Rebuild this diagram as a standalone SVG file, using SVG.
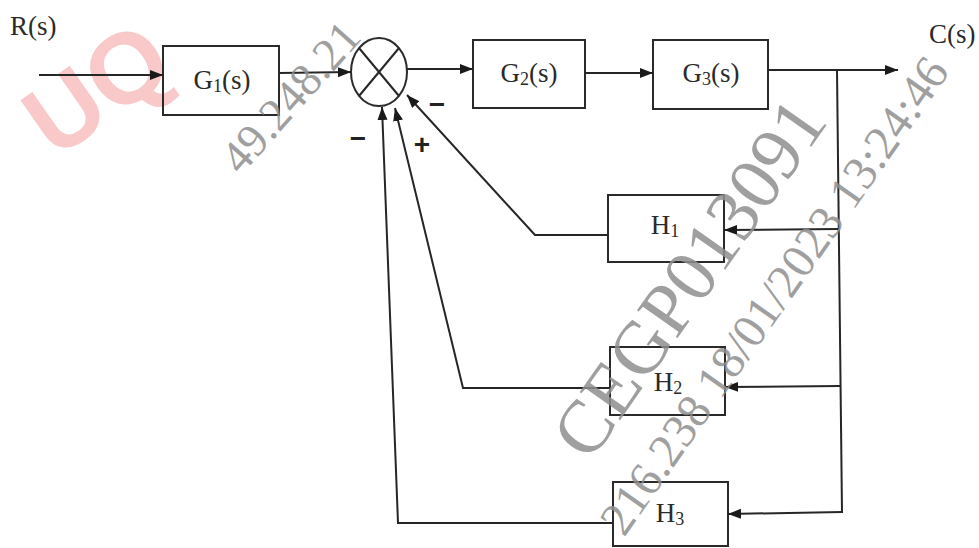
<svg xmlns="http://www.w3.org/2000/svg" width="979" height="548" viewBox="0 0 979 548">
  <style>
    .box { fill: none; stroke: #2a2a2a; stroke-width: 2; }
    .wire { fill: none; stroke: #262626; stroke-width: 2; }
    .lbl { font-family: "Liberation Serif", "Times New Roman", serif; font-size: 27px; fill: #2a2a2a; }
    .sub { font-size: 18px; }
    .sign { font-family: "Liberation Sans", Arial, sans-serif; font-weight: bold; font-size: 28px; fill: #222; text-anchor: middle; }
    .wm { font-family: "Liberation Serif", "Times New Roman", serif; fill: #8f8f8f; opacity: 0.85; }
  </style>
  <defs>
    <marker id="arr" markerUnits="userSpaceOnUse" markerWidth="14" markerHeight="11" refX="13" refY="5" orient="auto">
      <path d="M0,0 L13,5 L0,10 Z" fill="#1a1a1a"/>
    </marker>
  </defs>
  <rect width="979" height="548" fill="#ffffff"/>

  <!-- red watermark -->
  <g id="watermark-red">
    <text x="55" y="160" transform="rotate(-35 55 160)" font-family="Liberation Sans, Arial, sans-serif" font-weight="bold" font-size="100" fill="#f7b3b3" opacity="0.7">UQ</text>
  </g>

  <!-- labels -->
  <g id="input-label">
    <text class="lbl" x="10" y="35" font-size="28">R(s)</text>
  </g>
  <g id="output-label">
    <text class="lbl" x="929" y="43" font-size="26">C(s)</text>
  </g>

  <!-- nodes -->
  <g id="G1">
    <rect class="box" x="163" y="46" width="116" height="69"/>
    <text class="lbl" x="222" y="89" text-anchor="middle">G<tspan class="sub" dy="3">1</tspan><tspan dy="-3">(s)</tspan></text>
  </g>
  <g id="summer">
    <ellipse class="box" cx="379" cy="72" rx="28" ry="34"/>
    <line class="wire" x1="359" y1="48" x2="399" y2="96" stroke-width="1.5"/>
    <line class="wire" x1="399" y1="48" x2="359" y2="96" stroke-width="1.5"/>
  </g>
  <g id="G2">
    <rect class="box" x="473" y="40" width="112" height="68"/>
    <text class="lbl" x="529" y="82" text-anchor="middle">G<tspan class="sub" dy="3">2</tspan><tspan dy="-3">(s)</tspan></text>
  </g>
  <g id="G3">
    <rect class="box" x="653" y="40" width="115" height="69"/>
    <text class="lbl" x="711" y="82" text-anchor="middle">G<tspan class="sub" dy="3">3</tspan><tspan dy="-3">(s)</tspan></text>
  </g>
  <g id="H1">
    <rect class="box" x="608" y="195" width="116" height="67"/>
    <text class="lbl" x="665" y="234" text-anchor="middle" font-size="29">H<tspan class="sub" dy="3">1</tspan></text>
  </g>
  <g id="H2">
    <rect class="box" x="610" y="347" width="115" height="68"/>
    <text class="lbl" x="668" y="391" text-anchor="middle" font-size="29">H<tspan class="sub" dy="3">2</tspan></text>
  </g>
  <g id="H3">
    <rect class="box" x="613" y="482" width="115" height="64"/>
    <text class="lbl" x="670" y="522" text-anchor="middle" font-size="29">H<tspan class="sub" dy="3">3</tspan></text>
  </g>

  <!-- connectors -->
  <g id="connectors">
    <line class="wire" x1="39" y1="75" x2="163" y2="75" marker-end="url(#arr)"/>
    <line class="wire" x1="279" y1="73" x2="351" y2="72" marker-end="url(#arr)"/>
    <line class="wire" x1="407" y1="69" x2="473" y2="69" marker-end="url(#arr)"/>
    <line class="wire" x1="585" y1="73" x2="653" y2="73" marker-end="url(#arr)"/>
    <line class="wire" x1="768" y1="70" x2="898" y2="70" marker-end="url(#arr)"/>
    <line class="wire" x1="837" y1="70" x2="842" y2="513" stroke-width="1.8"/>
    <line class="wire" x1="838" y1="229" x2="724" y2="230" marker-end="url(#arr)"/>
    <line class="wire" x1="840" y1="386" x2="725" y2="387" marker-end="url(#arr)"/>
    <line class="wire" x1="842" y1="512" x2="728" y2="514" marker-end="url(#arr)"/>
    <polyline class="wire" points="608,235 535,235 407,95" marker-end="url(#arr)"/>
    <polyline class="wire" points="610,388 463,388 395,108" marker-end="url(#arr)"/>
    <polyline class="wire" points="612,523 398,523 382,107" marker-end="url(#arr)"/>
  </g>

  <!-- signs -->
  <g id="signs">
    <text class="sign" x="437" y="114">−</text>
    <text class="sign" x="358" y="148">−</text>
    <text class="sign" x="422" y="154" font-size="30">+</text>
  </g>

  <!-- grey watermarks -->
  <g id="watermark-grey">
    <text class="wm" x="241" y="176" font-size="46" transform="rotate(-48.5 241 176)">49.248.21</text>
    <text class="wm" x="590" y="463" font-size="75" transform="rotate(-55 590 463)">CEGP013091</text>
    <text class="wm" x="624" y="538" font-size="48" transform="rotate(-55 624 538)">216.238 18/01/2023 13:24:46</text>
  </g>
</svg>
